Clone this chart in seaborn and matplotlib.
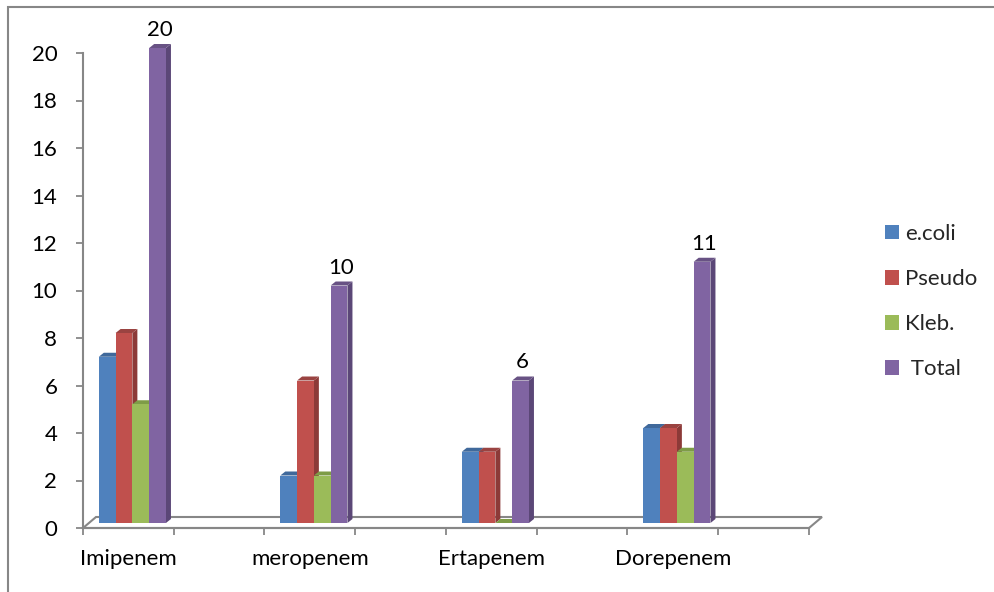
import matplotlib
matplotlib.use("Agg")
import matplotlib.pyplot as plt
from matplotlib.patches import Polygon, Rectangle
from matplotlib.transforms import offset_copy
import numpy as np
import pandas as pd
import seaborn as sns

# Resistant isolates per carbapenem
drugs = ["Imipenem", "meropenem", "Ertapenem", "Dorepenem"]
organisms = ["e.coli", "Pseudo", "Kleb.", " Total"]
ecoli = [7, 2, 3, 4]
pseudo = [8, 6, 3, 4]
kleb = [5, 2, 0, 3]
total = [20, 10, 6, 11]
y_ticks = list(range(0, 21, 2))

front_colors = ["#4F81BD", "#C0504D", "#9BBB59", "#8064A2"]
side_colors = ["#3A5E8C", "#8C3A38", "#718C3F", "#5B4777"]
top_colors = ["#40699B", "#9A4341", "#7E9C47", "#685284"]
grey = "#878787"
fs = 16

rows = []
for org, vals in zip(organisms, [ecoli, pseudo, kleb, total]):
    for d, v in zip(drugs, vals):
        rows.append({"drug": d, "organism": org, "count": v})
df = pd.DataFrame(rows)

sns.set_theme(style="white")
plt.rcParams["font.family"] = ["Lato", "DejaVu Sans"]

fig = plt.figure(figsize=(9.95, 5.92), dpi=100)
ax = fig.add_axes([83 / 995, 64 / 592, 726 / 995, 475 / 592])

sns.barplot(data=df, x="drug", y="count", hue="organism", order=drugs,
            hue_order=organisms, palette=front_colors, width=0.37,
            saturation=1, errorbar=None, legend=False, linewidth=0,
            edgecolor="none", ax=ax)

ax.set_xlim(-0.25, 3.75)
ax.set_ylim(0, 20)
ax.set_xlabel("")
ax.set_ylabel("")

# pixel sizes of one data unit, used for the pseudo-3D depth
ppx = ax.bbox.width / 4.0
ppy = ax.bbox.height / 20.0
ddx, ddy = 5 / ppx, 4 / ppy
bar_tr = offset_copy(ax.transData, fig=fig, x=4, y=5, units="dots")

# floor of the 3D plot
fdx, fdy = 13 / ppx, 11 / ppy
floor = Polygon([(-0.25, 0), (3.75, 0), (3.75 + fdx, fdy), (-0.25 + fdx, fdy)],
                closed=True, facecolor="white", edgecolor=grey, lw=1.5,
                clip_on=False, zorder=0.5)
ax.add_patch(floor)

for cont, fc, sc, tc in zip(ax.containers, front_colors, side_colors, top_colors):
    for bar in cont:
        bar.set_transform(bar_tr)
        bar.set_clip_on(False)
        bar.set_zorder(2)
        bar.set_linewidth(0)
        x0 = bar.get_x()
        x1 = x0 + bar.get_width()
        h = bar.get_height()
        side = Polygon([(x1, 0), (x1 + ddx, ddy), (x1 + ddx, h + ddy), (x1, h)],
                       closed=True, facecolor=sc, edgecolor="none",
                       transform=bar_tr, clip_on=False, zorder=1.9)
        top = Polygon([(x0, h), (x1, h), (x1 + ddx, h + ddy), (x0 + ddx, h + ddy)],
                      closed=True, facecolor=tc, edgecolor="none",
                      transform=bar_tr, clip_on=False, zorder=1.9)
        ax.add_patch(side)
        ax.add_patch(top)

# value labels on the Total series
label_tr = offset_copy(ax.transData, fig=fig, x=6, y=13, units="dots")
for bar, v in zip(ax.containers[3], total):
    ax.text(bar.get_x() + bar.get_width() / 2, v, str(v), transform=label_tr,
            ha="center", va="bottom", fontsize=fs, color="black")

# axes styling
for s in ["top", "right"]:
    ax.spines[s].set_visible(False)
for s in ["left", "bottom"]:
    ax.spines[s].set_color(grey)
    ax.spines[s].set_linewidth(1.5)
    ax.spines[s].set_zorder(0.6)

ax.set_yticks(y_ticks)
ax.set_yticklabels([str(t) for t in y_ticks])
ax.set_xticks(range(len(drugs)))
ax.set_xticklabels(drugs)
ax.set_xticks(np.arange(-0.25, 3.8, 0.5), minor=True)
ax.tick_params(axis="y", left=True, length=5, width=1.3, color=grey,
               labelsize=fs, pad=13.5, labelcolor="black")
ax.tick_params(axis="x", which="major", bottom=True, length=0,
               labelsize=fs, pad=15, labelcolor="black")
ax.tick_params(axis="x", which="minor", bottom=True, length=5, width=1.3,
               color=grey)
ax.grid(False)

handles = [Rectangle((0, 0), 1, 1, facecolor=c, edgecolor="none") for c in front_colors]
fig.legend(handles, organisms, loc="upper left", bbox_to_anchor=(885 / 995, 1 - 224 / 592),
           frameon=False, fontsize=fs, handlelength=0.63, handleheight=0.63,
           handletextpad=0.27, labelspacing=1.13, borderaxespad=0, borderpad=0)

# chart area border
fig.add_artist(Rectangle((8 / 995, -0.05), 1.1, 1 - 7 / 592 + 0.05,
                         transform=fig.transFigure, fill=False,
                         edgecolor=grey, lw=1.5))

fig.savefig("out.png", dpi=100)
